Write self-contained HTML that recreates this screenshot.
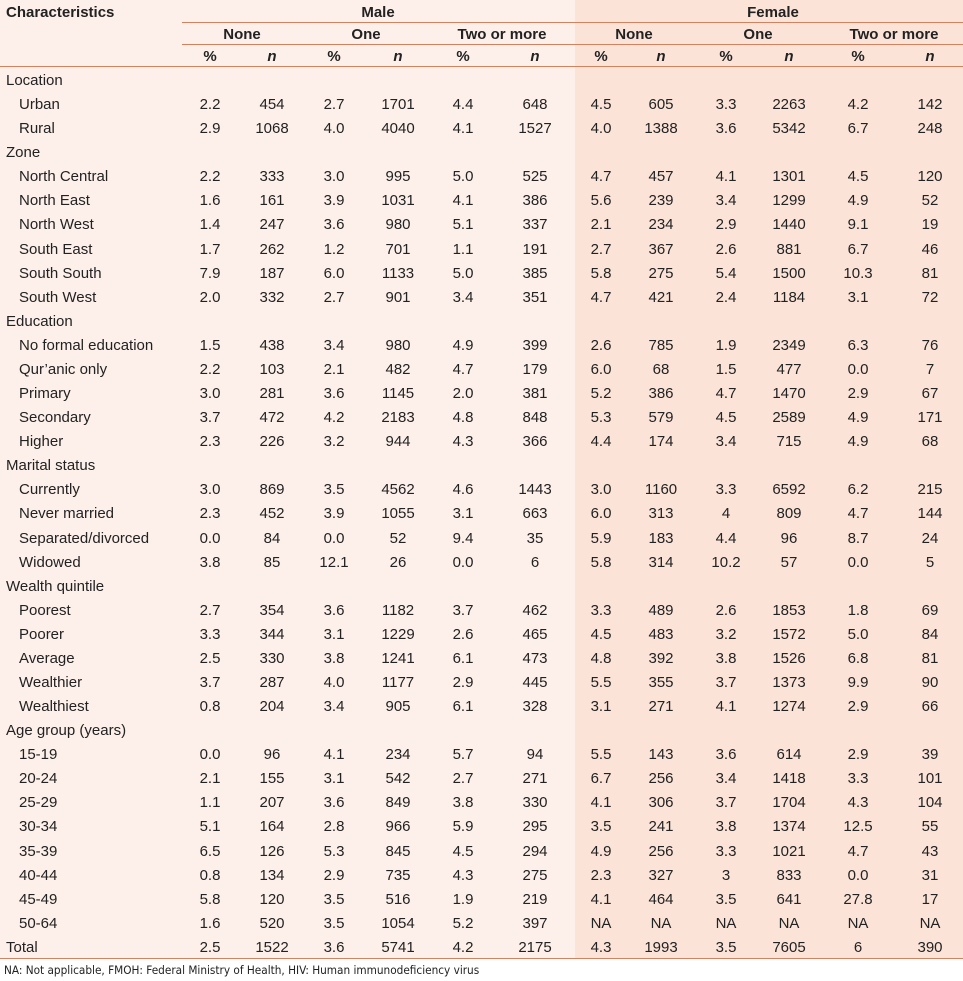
<!DOCTYPE html>
<html><head><meta charset="utf-8"><style>
html,body{margin:0;padding:0;background:#fff;}
#wrap{position:relative;width:963px;height:981px;overflow:hidden;font-family:"Liberation Sans",Arial,sans-serif;font-size:15px;color:#222;}
.bg{position:absolute;}
.t{position:absolute;white-space:nowrap;line-height:16px;}
.c{transform:translateX(-50%);}
.hl{position:absolute;height:1px;background:#d5805f;}
.b{font-weight:bold;}
.i{font-style:italic;font-weight:bold;}
</style></head><body>
<div id="wrap">
<div class="bg" style="left:0;top:0;width:963px;height:958px;background:#fdf0ea"></div>
<div class="bg" style="left:575px;top:0;width:388px;height:958px;background:#fbe3d8"></div>
<div class="hl" style="left:182px;top:22px;width:781px"></div>
<div class="hl" style="left:182px;top:44px;width:781px"></div>
<div class="hl" style="left:0;top:66px;width:963px"></div>
<div class="hl" style="left:0;top:958px;width:963px"></div>
<div class="t b" style="left:6px;top:5px">Characteristics</div>
<div class="t b c" style="left:378px;top:5px">Male</div>
<div class="t b c" style="left:773px;top:5px">Female</div>
<div class="t" style="left:4px;top:962px;font-size:11.7px;font-family:'DejaVu Sans Condensed','DejaVu Sans',sans-serif;">NA: Not applicable, FMOH: Federal Ministry of Health, HIV: Human immunodeficiency virus</div>
</div>
<script>
const groupLabels=["None","One","Two or more","None","One","Two or more"];
const groupCenters=[242,366,502,634,758,894];
const colX=[210,272,334,398,463,535,601,661,726,789,858,930];
const rows=[
["Location",0,null],
["Urban",1,["2.2","454","2.7","1701","4.4","648","4.5","605","3.3","2263","4.2","142"]],
["Rural",1,["2.9","1068","4.0","4040","4.1","1527","4.0","1388","3.6","5342","6.7","248"]],
["Zone",0,null],
["North Central",1,["2.2","333","3.0","995","5.0","525","4.7","457","4.1","1301","4.5","120"]],
["North East",1,["1.6","161","3.9","1031","4.1","386","5.6","239","3.4","1299","4.9","52"]],
["North West",1,["1.4","247","3.6","980","5.1","337","2.1","234","2.9","1440","9.1","19"]],
["South East",1,["1.7","262","1.2","701","1.1","191","2.7","367","2.6","881","6.7","46"]],
["South South",1,["7.9","187","6.0","1133","5.0","385","5.8","275","5.4","1500","10.3","81"]],
["South West",1,["2.0","332","2.7","901","3.4","351","4.7","421","2.4","1184","3.1","72"]],
["Education",0,null],
["No formal education",1,["1.5","438","3.4","980","4.9","399","2.6","785","1.9","2349","6.3","76"]],
["Qur\u2019anic only",1,["2.2","103","2.1","482","4.7","179","6.0","68","1.5","477","0.0","7"]],
["Primary",1,["3.0","281","3.6","1145","2.0","381","5.2","386","4.7","1470","2.9","67"]],
["Secondary",1,["3.7","472","4.2","2183","4.8","848","5.3","579","4.5","2589","4.9","171"]],
["Higher",1,["2.3","226","3.2","944","4.3","366","4.4","174","3.4","715","4.9","68"]],
["Marital status",0,null],
["Currently",1,["3.0","869","3.5","4562","4.6","1443","3.0","1160","3.3","6592","6.2","215"]],
["Never married",1,["2.3","452","3.9","1055","3.1","663","6.0","313","4","809","4.7","144"]],
["Separated/divorced",1,["0.0","84","0.0","52","9.4","35","5.9","183","4.4","96","8.7","24"]],
["Widowed",1,["3.8","85","12.1","26","0.0","6","5.8","314","10.2","57","0.0","5"]],
["Wealth quintile",0,null],
["Poorest",1,["2.7","354","3.6","1182","3.7","462","3.3","489","2.6","1853","1.8","69"]],
["Poorer",1,["3.3","344","3.1","1229","2.6","465","4.5","483","3.2","1572","5.0","84"]],
["Average",1,["2.5","330","3.8","1241","6.1","473","4.8","392","3.8","1526","6.8","81"]],
["Wealthier",1,["3.7","287","4.0","1177","2.9","445","5.5","355","3.7","1373","9.9","90"]],
["Wealthiest",1,["0.8","204","3.4","905","6.1","328","3.1","271","4.1","1274","2.9","66"]],
["Age group (years)",0,null],
["15-19",1,["0.0","96","4.1","234","5.7","94","5.5","143","3.6","614","2.9","39"]],
["20-24",1,["2.1","155","3.1","542","2.7","271","6.7","256","3.4","1418","3.3","101"]],
["25-29",1,["1.1","207","3.6","849","3.8","330","4.1","306","3.7","1704","4.3","104"]],
["30-34",1,["5.1","164","2.8","966","5.9","295","3.5","241","3.8","1374","12.5","55"]],
["35-39",1,["6.5","126","5.3","845","4.5","294","4.9","256","3.3","1021","4.7","43"]],
["40-44",1,["0.8","134","2.9","735","4.3","275","2.3","327","3","833","0.0","31"]],
["45-49",1,["5.8","120","3.5","516","1.9","219","4.1","464","3.5","641","27.8","17"]],
["50-64",1,["1.6","520","3.5","1054","5.2","397","NA","NA","NA","NA","NA","NA"]],
["Total",0,["2.5","1522","3.6","5741","4.2","2175","4.3","1993","3.5","7605","6","390"]]
];
const W=document.getElementById('wrap');
function mk(txt,x,y,cls){const d=document.createElement('div');d.className='t '+cls;d.textContent=txt;d.style.left=x+'px';d.style.top=y+'px';W.appendChild(d);return d;}
groupLabels.forEach((g,i)=>{const d=mk(g,groupCenters[i],27,'b c');

});
colX.forEach((x,i)=>{const d=mk(i%2?'n':'%',x,49,'c '+(i%2?'i':'b'));

});
rows.forEach((r,ri)=>{const y=73+ri*24.08;
const l=mk(r[0],r[1]?19:6,y,'');


if(r[2])r[2].forEach((v,ci)=>{const d=mk(v,colX[ci],y,'c');

});});
</script>
</body></html>
